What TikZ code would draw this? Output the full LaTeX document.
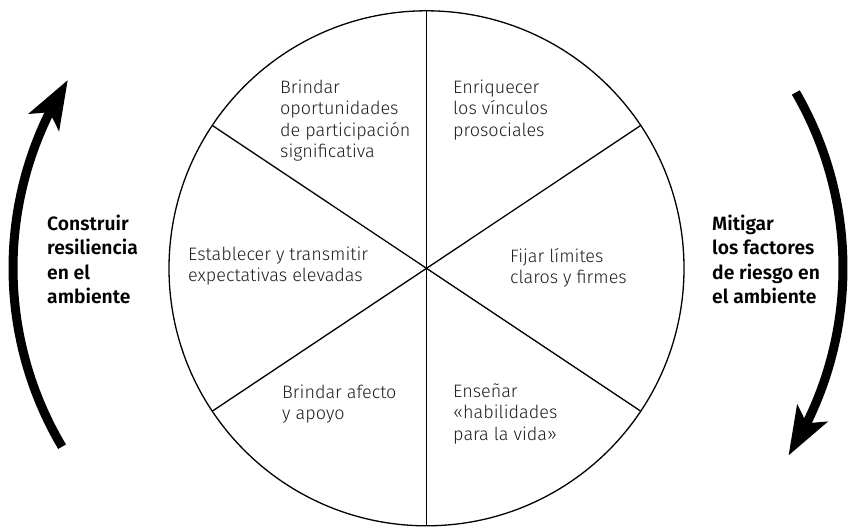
\documentclass[tikz,border=0pt]{standalone}
\usepackage{fontspec}
\setmainfont{Fira Sans}[UprightFont=* Light, BoldFont=* SemiBold]
\usetikzlibrary{arrows.meta,bending}

\tikzset{
  sector/.style={anchor=base west, align=left, inner sep=0pt, text=black!88,
    font=\fontsize{18}{21.5}\selectfont},
  aim/.style={anchor=base west, align=left, inner sep=0pt,
    font=\bfseries\fontsize{19.3}{24.5}\selectfont},
  spoke/.style={line width=1.3pt},
  turnarrow/.style={line width=9pt, -{Stealth[length=48pt, width=34pt, inset=11pt]}}
}

\begin{document}
\begin{tikzpicture}[x=1pt, y=-1pt]
    \useasboundingbox (0,0) rectangle (848,531);
    \coordinate (c) at (426.5,268.3);

    % Draw Wheel
    \draw[spoke] (c) circle (257.5pt);
    \foreach \a in {90, 270, 33.7, 146.3, 213.7, 326.3}{
        \draw[spoke] (c) -- ++(\a:257.5);
    }

    % Add Sectors (placed at the baseline of the last line)
    \node[sector] (part) at (280,157.5) {Brindar\\oportunidades\\de participación\\significativa};
    \node[sector] (bond) at (453,136) {Enriquecer\\los vínculos\\prosociales};
    \node[sector] (expect) at (188,281.5) {Establecer y transmitir\\expectativas elevadas};
    \node[sector] (limit) at (510,283.5) {Fijar límites\\claros y firmes};
    \node[sector] (care) at (282,419.5) {Brindar afecto\\y apoyo};
    \node[sector] (skill) at (453,440) {Enseñar\\«habilidades\\para la vida»};

    % Draw Arrows
    \draw[turnarrow] (363,268) ++(149.3:350) arc (149.3:212.5:350);
    \draw[turnarrow] (493,268) ++(-30.1:350) arc (-30.1:32.4:350);
    \node[aim] (build) at (47,303.5) {Construir\\resiliencia\\en el\\ambiente};
    \node[aim] (ease) at (712,303.5) {Mitigar\\los factores\\de riesgo en\\el ambiente};
\end{tikzpicture}
\end{document}
